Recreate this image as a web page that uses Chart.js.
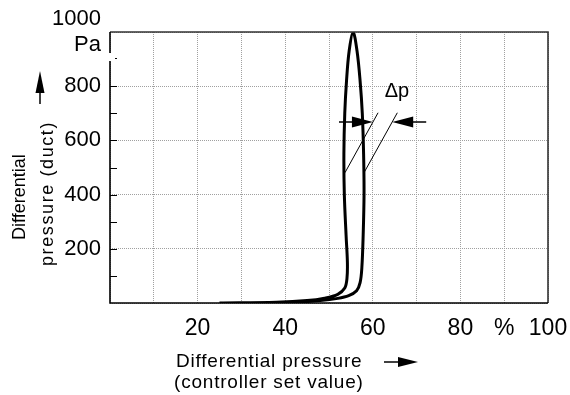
<!DOCTYPE html>
<html>
<head>
<meta charset="utf-8">
<script src="https://cdn.jsdelivr.net/npm/chart.js@4.4.1/dist/chart.umd.min.js"></script>
<style>
  body { margin: 0; background: #fff; }
  #wrap { width: 570px; height: 395px; }
</style>
</head>
<body>
<div id="wrap"><canvas id="mycanvas" width="570" height="395"></canvas></div>
<script>
// rising branch (bottom -> top), percent of controller set value vs Pa
var riseX = [25, 38, 45, 49, 52, 53.6, 54.1, 54.2, 53.9, 53.5, 53.4, 53.6, 54.0, 54.6, 55.5];
var riseY = [0, 3, 9, 18, 32, 55, 90, 150, 250, 400, 550, 700, 820, 930, 1000];
// falling branch (bottom -> top)
var fallX = [25, 42, 48, 52, 54.5, 56.3, 57.1, 57.5, 57.8, 58.0, 57.9, 57.6, 57.1, 56.4, 55.5];
var fallY = [0, 3, 9, 17, 27, 45, 75, 130, 250, 400, 550, 700, 820, 930, 1000];

var xTickLabels = {20: '20', 40: '40', 60: '60', 80: '80', 90: '%', 100: '100'};
var yTickLabels = {200: '200', 400: '400', 600: '600', 800: '800', 1000: ['1000', 'Pa']};

// delta p marker (data units)
var dpArrowY = 668;
var dpLine1 = [[53.65, 481], [61.2, 702]];
var dpLine2 = [[58.0, 481], [65.6, 702]];

var FONT = '"Liberation Sans", Arial, Helvetica, sans-serif';

// one closed loop: up the rising branch, down the falling one
var loop = [];
for (var i = 0; i < riseX.length; i++) loop.push({x: riseX[i], y: riseY[i]});
for (var j = fallX.length - 2; j >= 0; j--) loop.push({x: fallX[j], y: fallY[j]});

function tri(ctx, tipX, tipY, baseX, half, vertical) {
    ctx.beginPath();
    ctx.moveTo(tipX, tipY);
    if (vertical) {
        ctx.lineTo(tipX - half, baseX);
        ctx.lineTo(tipX + half, baseX);
    } else {
        ctx.lineTo(baseX, tipY - half);
        ctx.lineTo(baseX, tipY + half);
    }
    ctx.closePath();
    ctx.fill();
}

var extras = {
    id: 'extras',
    afterDraw: function (chart) {
        var ctx = chart.ctx, a = chart.chartArea;
        var xs = chart.scales.x, ys = chart.scales.y;
        ctx.save();

        // inner minor ticks on the left axis
        ctx.strokeStyle = '#000';
        ctx.lineWidth = 1;
        for (var v = 100; v < 1000; v += 100) {
            var py = Math.round(ys.getPixelForValue(v)) + 0.5;
            ctx.beginPath();
            ctx.moveTo(a.left, py);
            ctx.lineTo(a.left + 7, py);
            ctx.stroke();
        }

        // frame
        ctx.lineWidth = 1.6;
        ctx.strokeStyle = '#333';
        ctx.beginPath();
        ctx.moveTo(a.left, a.top);
        ctx.lineTo(a.right, a.top);
        ctx.lineTo(a.right, a.bottom);
        ctx.stroke();
        ctx.strokeStyle = '#000';
        ctx.beginPath();
        ctx.moveTo(a.left, a.top);
        ctx.lineTo(a.left, a.bottom);
        ctx.lineTo(a.right, a.bottom);
        ctx.stroke();
        // small break in the left axis
        ctx.fillStyle = '#fff';
        ctx.fillRect(a.left - 3, 53, 11, 8);
        ctx.fillStyle = '#000';
        ctx.fillRect(a.left + 5, 58, 2, 1);

        // delta p extension lines
        ctx.lineWidth = 1;
        [dpLine1, dpLine2].forEach(function (l) {
            ctx.beginPath();
            ctx.moveTo(xs.getPixelForValue(l[0][0]), ys.getPixelForValue(l[0][1]));
            ctx.lineTo(xs.getPixelForValue(l[1][0]), ys.getPixelForValue(l[1][1]));
            ctx.stroke();
        });
        var ay = ys.getPixelForValue(dpArrowY);
        var tip1 = xs.getPixelForValue(dpLine1[0][0] + (dpLine1[1][0] - dpLine1[0][0]) * (dpArrowY - dpLine1[0][1]) / (dpLine1[1][1] - dpLine1[0][1]));
        var tip2 = xs.getPixelForValue(dpLine2[0][0] + (dpLine2[1][0] - dpLine2[0][0]) * (dpArrowY - dpLine2[0][1]) / (dpLine2[1][1] - dpLine2[0][1]));
        ctx.lineWidth = 1.5;
        ctx.beginPath();
        ctx.moveTo(tip1 - 34, ay);
        ctx.lineTo(tip1 - 10, ay);
        ctx.moveTo(tip2 + 10, ay);
        ctx.lineTo(tip2 + 34, ay);
        ctx.stroke();
        tri(ctx, tip1, ay, tip1 - 21, 5.5, false);
        tri(ctx, tip2, ay, tip2 + 21, 5.5, false);

        ctx.font = '20px ' + FONT;
        ctx.textAlign = 'center';
        ctx.textBaseline = 'middle';
        ctx.fillText('\u0394p', tip1 + 24, ay - 30);

        // x title + arrow
        ctx.textAlign = 'left';
        ctx.textBaseline = 'alphabetic';
        ctx.font = '19px ' + FONT;
        ctx.letterSpacing = '0.8px';
        ctx.fillText('Differential pressure', 176, 367);
        ctx.fillText('(controller set value)', 174, 388);
        ctx.letterSpacing = '0px';
        ctx.lineWidth = 1.5;
        ctx.beginPath();
        ctx.moveTo(384, 362);
        ctx.lineTo(400, 362);
        ctx.stroke();
        tri(ctx, 418, 362, 398, 5, true === false);

        // y title + arrow
        ctx.save();
        ctx.rotate(-Math.PI / 2);
        ctx.font = '18px ' + FONT;
        ctx.fillText('Differential', -240, 25);
        ctx.letterSpacing = '1.6px';
        ctx.fillText('pressure (duct)', -266, 53);
        ctx.restore();
        ctx.beginPath();
        ctx.moveTo(40, 90);
        ctx.lineTo(40, 104);
        ctx.stroke();
        tri(ctx, 40, 71, 93, 4.5, true);

        ctx.restore();
    }
};

var chartdata = {
    datasets: [
        {
            label: 'hysteresis',
            data: loop,
            borderColor: '#000',
            borderWidth: 3,
            pointRadius: 0,
            tension: 0.35,
            fill: false
        }
    ]
};

var ctx = document.getElementById('mycanvas');
var lineGraph = new Chart(ctx, {
    type: 'line',
    data: chartdata,
    plugins: [extras],
    options: {
        responsive: false,
        devicePixelRatio: 1,
        animation: false,
        layout: { padding: { left: 0, top: 32, right: 22, bottom: 0 } },
        plugins: { legend: { display: false }, tooltip: { enabled: false } },
        scales: {
            x: {
                type: 'linear',
                min: 0, max: 100,
                afterFit: function (s) { s.height = 92; s.paddingRight = 0; s.paddingLeft = 0; },
                border: { display: false, dash: [1, 1] },
                grid: { color: '#a0a0a0', drawTicks: false, lineWidth: 1 },
                ticks: {
                    stepSize: 10, autoSkip: false, maxRotation: 0, padding: 12,
                    color: '#000', font: { family: FONT, size: 23 },
                    callback: function (v) { return xTickLabels[v] || ''; }
                }
            },
            y: {
                min: 0, max: 1000,
                afterFit: function (s) { s.width = 110; s.paddingTop = 0; s.paddingBottom = 0; },
                border: { display: false, dash: [1, 1] },
                grid: {
                    drawTicks: false, lineWidth: 1,
                    color: function (c) { return c.tick && c.tick.value % 200 === 0 ? '#a0a0a0' : 'rgba(0,0,0,0)'; }
                },
                ticks: {
                    stepSize: 100, autoSkip: false, padding: 9,
                    color: '#000', font: { family: FONT, size: 22 },
                    callback: function (v) { return yTickLabels[v] || ''; }
                }
            }
        }
    }
});
</script>
</body>
</html>
